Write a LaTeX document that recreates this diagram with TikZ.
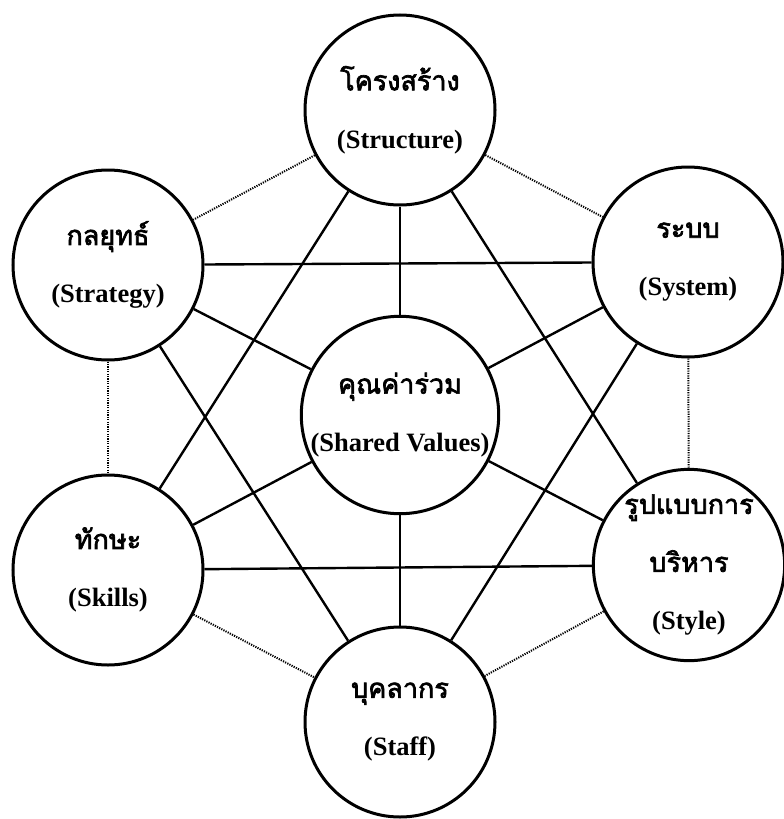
\documentclass[tikz,border=0pt]{standalone}
\usepackage{fontspec}
\setmainfont{Liberation Serif}
\newfontfamily\thaifont[Script=Thai,AutoFakeBold=2.5]{Loma}
\usetikzlibrary{positioning}
\newcommand{\tw}[1]{{\thaifont\fontsize{27}{58}\selectfont #1}}
\begin{document}
\begin{tikzpicture}[x=1pt,y=-1pt,
  circ/.style={draw,circle,line width=3pt,minimum size=190pt,inner sep=0pt,align=center,
    font=\fontsize{26.5}{58}\selectfont\bfseries},
  link/.style={line width=2.4pt},
  dots/.style={line width=2pt,dash pattern=on 1.2pt off 1.2pt}]
\useasboundingbox (0,0) rectangle (784,819);
\node[circ] (structure) at (400,110) {\tw{โครงสร้าง}\\(Structure)};
\node[circ] (strategy) at (108,265) {\tw{กลยุทธ์}\\(Strategy)};
\node[circ] (system) at (688,262) {\tw{ระบบ}\\(System)};
\node[circ] (shared) at (400,415) {\tw{คุณค่าร่วม}\\(Shared Values)};
\node[circ] (skills) at (108,570) {\tw{ทักษะ}\\(Skills)};
\node[circ] (style) at (689,565) {\tw{รูปแบบการ}\\\tw{บริหาร}\\(Style)};
\node[circ] (staff) at (400,722) {\tw{บุคลากร}\\(Staff)};
% spokes from the centre
\foreach \n in {structure,strategy,system,skills,style,staff}
  \draw[link] (shared) -- (\n);
% second neighbours
\draw[link] (structure) -- (skills);
\draw[link] (structure) -- (style);
\draw[link] (strategy) -- (system);
\draw[link] (strategy) -- (staff);
\draw[link] (system) -- (staff);
\draw[link] (skills) -- (style);
% outer ring
\draw[dots] (structure) -- (strategy);
\draw[dots] (structure) -- (system);
\draw[dots] (strategy) -- (skills);
\draw[dots] (system) -- (style);
\draw[dots] (skills) -- (staff);
\draw[dots] (style) -- (staff);
\end{tikzpicture}
\end{document}
